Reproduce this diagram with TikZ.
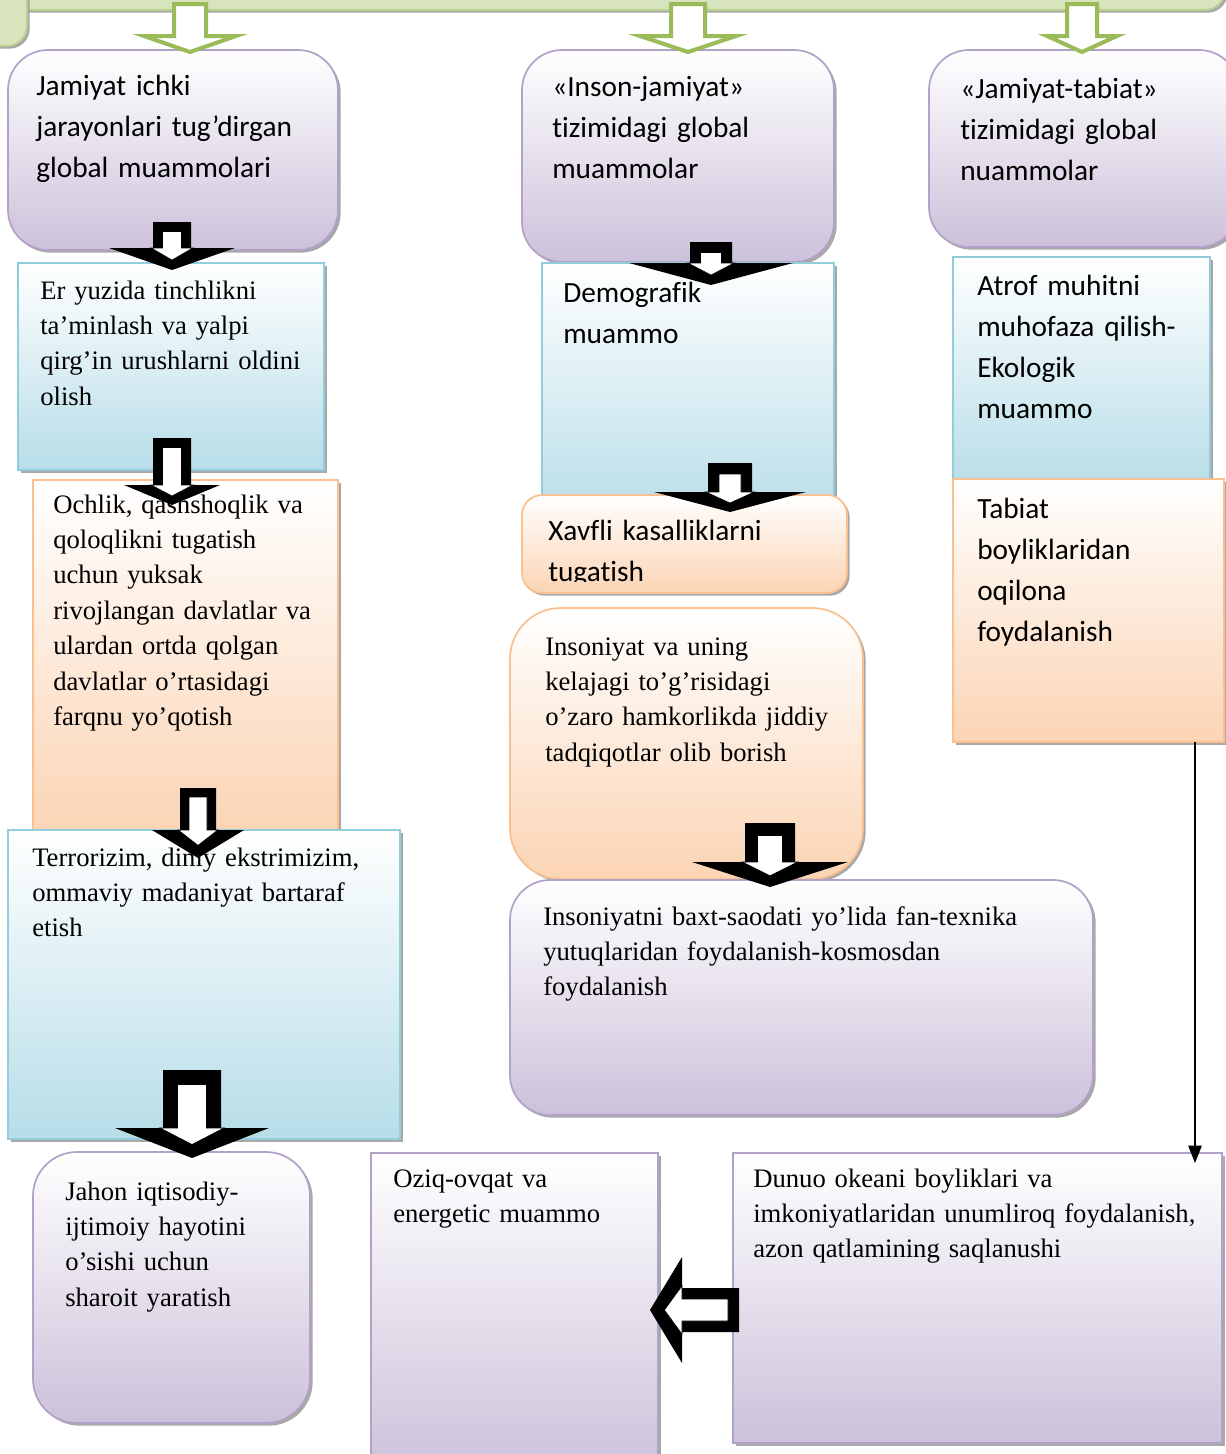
\documentclass[tikz,border=0pt]{standalone}
\usepackage{fontspec}
\setmainfont{Liberation Serif}
\newfontfamily\calfont[Ligatures={NoCommon}]{Carlito}
\usetikzlibrary{shadows,calc,arrows.meta}
\definecolor{purpF}{HTML}{CCC1DA}
\definecolor{purpD}{HTML}{B3A2C7}
\definecolor{blueF}{HTML}{B7DDE8}
\definecolor{blueD}{HTML}{92CDDC}
\definecolor{orF}{HTML}{FBD4B4}
\definecolor{orD}{HTML}{FAC08F}
\definecolor{grF}{HTML}{D7E4BD}
\definecolor{grD}{HTML}{9BBB59}
\tikzset{
  bx/.style={draw, line width=1.3pt, inner sep=0pt, outer sep=0pt, anchor=north west,
    drop shadow={shadow xshift=2pt,shadow yshift=-2pt,fill=gray!75,opacity=0.9}},
  pbox/.style={bx, draw=purpD, top color=white, bottom color=purpF},
  bbox/.style={bx, draw=blueD, top color=white, bottom color=blueF},
  obox/.style={bx, draw=orD, top color=white, bottom color=orF},
  gbox/.style={bx, draw=grD!70, fill=grF},
  ctxt/.style={font={\calfont\fontsize{22}{30.75}\selectfont}, anchor=base west, inner sep=0pt, text width=320pt, align=left},
  stxt/.style={font={\fontsize{20}{26.6}\selectfont}, anchor=base west, inner sep=0pt, text width=420pt, align=left},
  garr/.style={draw=grD, line width=3pt, fill=white, line join=miter},
  thinarr/.style={line width=1.2pt, -{Triangle[length=13pt,width=10pt]}},
}
% vertical black block arrow: cx, top, base, tip, shaft half width, head half width
\newcommand{\blkarrowV}[6]{%
  \fill[black] ({#1-#5},#2) -- ({#1+#5},#2) -- ({#1+#5},#3) -- ({#1+#6},#3) -- (#1,#4) -- ({#1-#6},#3) -- ({#1-#5},#3) -- cycle;
  \filldraw[fill=white,draw=black,line width=0.5pt] ({#1-0.5*#5},{#2+0.5*#5}) -- ({#1+0.5*#5},{#2+0.5*#5}) -- ({#1+0.5*#5},#3) -- ({#1+1.1*#5},#3) -- (#1,{#4-0.45*(#4-#3)}) -- ({#1-1.1*#5},#3) -- ({#1-0.5*#5},#3) -- cycle;
}
% horizontal (left-pointing) black block arrow: cy, tail, base, tip, shaft half width, head half width
\newcommand{\blkarrowH}[6]{%
  \fill[black] (#2,{#1-#5}) -- (#2,{#1+#5}) -- (#3,{#1+#5}) -- (#3,{#1+#6}) -- (#4,#1) -- (#3,{#1-#6}) -- (#3,{#1-#5}) -- cycle;
  \filldraw[fill=white,draw=black,line width=0.5pt] ({#2-0.5*#5},{#1-0.5*#5}) -- ({#2-0.5*#5},{#1+0.5*#5}) -- (#3,{#1+0.5*#5}) -- (#3,{#1+1.1*#5}) -- ({#4+0.45*(#3-#4)},#1) -- (#3,{#1-1.1*#5}) -- (#3,{#1-0.5*#5}) -- cycle;
}
% green hollow arrow
\newcommand{\grnarrow}[6]{%
  \draw[garr] ({#1-#5},#2) -- ({#1+#5},#2) -- ({#1+#5},#3) -- ({#1+#6},#3) -- (#1,#4) -- ({#1-#6},#3) -- ({#1-#5},#3) -- cycle;
}
\begin{document}
\begin{tikzpicture}[x=0.75pt,y=-0.75pt]
\clip (0,0) rectangle (1226,1454);
\fill[white] (0,0) rectangle (1226,1454);

% header
\node[gbox, rounded corners=15pt, minimum width=1290*0.75pt, minimum height=75*0.75pt] (head) at (-65,-65) {};
\node[gbox, rounded corners=15pt, minimum width=80*0.75pt, minimum height=111*0.75pt] (headL) at (-53,-65) {};

% column 1
\node[pbox, rounded corners=30pt, minimum width=330*0.75pt, minimum height=200*0.75pt] (boxA) at (8,50) {};
\node[ctxt] (tA) at (36,95) {Jamiyat ichki\\jarayonlari tug’dirgan\\global muammolari};

\node[bbox, minimum width=306*0.75pt, minimum height=207*0.75pt] (blue1) at (18,263) {};
\node[stxt] (tB1) at (40,299) {Er yuzida tinchlikni\\ta’minlash va yalpi\\qirg’in urushlarni oldini\\olish};

\node[obox, minimum width=305*0.75pt, minimum height=355*0.75pt] (or1) at (33,480) {};
\node[stxt] (tO1) at (53,513) {Ochlik, qashshoqlik va\\qoloqlikni tugatish\\uchun yuksak\\rivojlangan davlatlar va\\ulardan ortda qolgan\\davlatlar o’rtasidagi\\farqnu yo’qotish};

\node[bbox, minimum width=392*0.75pt, minimum height=309*0.75pt] (terr) at (8,830) {};
\node[stxt] (tT) at (32,866) {Terrorizim, diniy ekstrimizim,\\ommaviy madaniyat bartaraf\\etish};

\node[pbox, rounded corners=33pt, minimum width=277*0.75pt, minimum height=271*0.75pt] (jahon) at (33,1152) {};
\node[stxt] (tJ) at (65,1200) {Jahon iqtisodiy-\\ijtimoiy hayotini\\o’sishi uchun\\sharoit yaratish};

% column 2
\node[pbox, rounded corners=30pt, minimum width=312*0.75pt, minimum height=212*0.75pt] (boxB) at (522,50) {};
\node[ctxt] (tBB) at (552,96) {«Inson-jamiyat»\\tizimidagi global\\muammolar};

\node[bbox, minimum width=292*0.75pt, minimum height=260*0.75pt] (blue2) at (542,263) {};
\node[ctxt] (tB2) at (563,302) {Demografik\\muammo};

\node[obox, rounded corners=15pt, minimum width=325*0.75pt, minimum height=98*0.75pt] (xav) at (522,495) {};
\begin{scope}
\clip (522,495) rectangle (847,581);
\node[ctxt] (tX) at (548,540) {Xavfli kasalliklarni\\tugatish};
\end{scope}

\node[obox, rounded corners=38pt, minimum width=353*0.75pt, minimum height=271*0.75pt] (or3) at (510,608) {};
\node[stxt] (tO3) at (545,655) {Insoniyat va uning\\kelajagi to’g’risidagi\\o’zaro hamkorlikda jiddiy\\tadqiqotlar olib borish};

\node[pbox, rounded corners=30pt, minimum width=583*0.75pt, minimum height=235*0.75pt] (baxt) at (510,880) {};
\node[stxt] (tBx) at (543,925) {Insoniyatni baxt-saodati yo’lida fan-texnika\\yutuqlaridan foydalanish-kosmosdan\\foydalanish};

% column 3
\node[pbox, rounded corners=30pt, minimum width=310*0.75pt, minimum height=197*0.75pt] (boxC) at (929,50) {};
\node[ctxt] (tC) at (960,98) {«Jamiyat-tabiat»\\tizimidagi global\\nuammolar};

\node[bbox, minimum width=257*0.75pt, minimum height=230*0.75pt] (blue3) at (953,257) {};
\node[ctxt] (tB3) at (977,295) {Atrof muhitni\\muhofaza qilish-\\Ekologik\\muammo};

\node[obox, minimum width=271*0.75pt, minimum height=263*0.75pt] (tab) at (953,479) {};
\node[ctxt] (tTb) at (977,518) {Tabiat\\boyliklaridan\\oqilona\\foydalanish};

% bottom row
\node[pbox, minimum width=287*0.75pt, minimum height=320*0.75pt] (oziq) at (371,1153) {};
\node[stxt] (tOz) at (393,1187) {Oziq-ovqat va\\energetic muammo};

\node[pbox, minimum width=489*0.75pt, minimum height=290*0.75pt] (dunuo) at (733,1153) {};
\node[stxt] (tD) at (753,1187) {Dunuo okeani boyliklari va\\imkoniyatlaridan unumliroq foydalanish,\\azon qatlamining saqlanushi};

% green arrows from header
\grnarrow{190}{4}{36}{52}{16}{46}
\grnarrow{688}{4}{36}{52}{17}{48}
\grnarrow{1082}{4}{36}{52}{15}{35}

% black block arrows
\blkarrowV{172}{222}{248}{270}{19}{63}
\blkarrowV{711}{242}{263}{285}{21}{82}
\blkarrowV{172}{438}{485}{505}{19}{48}
\blkarrowV{730}{463}{492}{512}{22}{76}
\blkarrowV{198}{788}{830}{858}{18}{46}
\blkarrowV{770}{823}{862}{887}{25}{78}
\blkarrowV{192}{1070}{1128}{1158}{29}{77}
\blkarrowH{1310}{739}{682}{650}{22}{53}

% thin connector
\coordinate (ax) at (1195,0);
\draw[thinarr] (ax |- tab.south) -- ($(ax |- dunuo.north)+(0,10)$);
\end{tikzpicture}
\end{document}
